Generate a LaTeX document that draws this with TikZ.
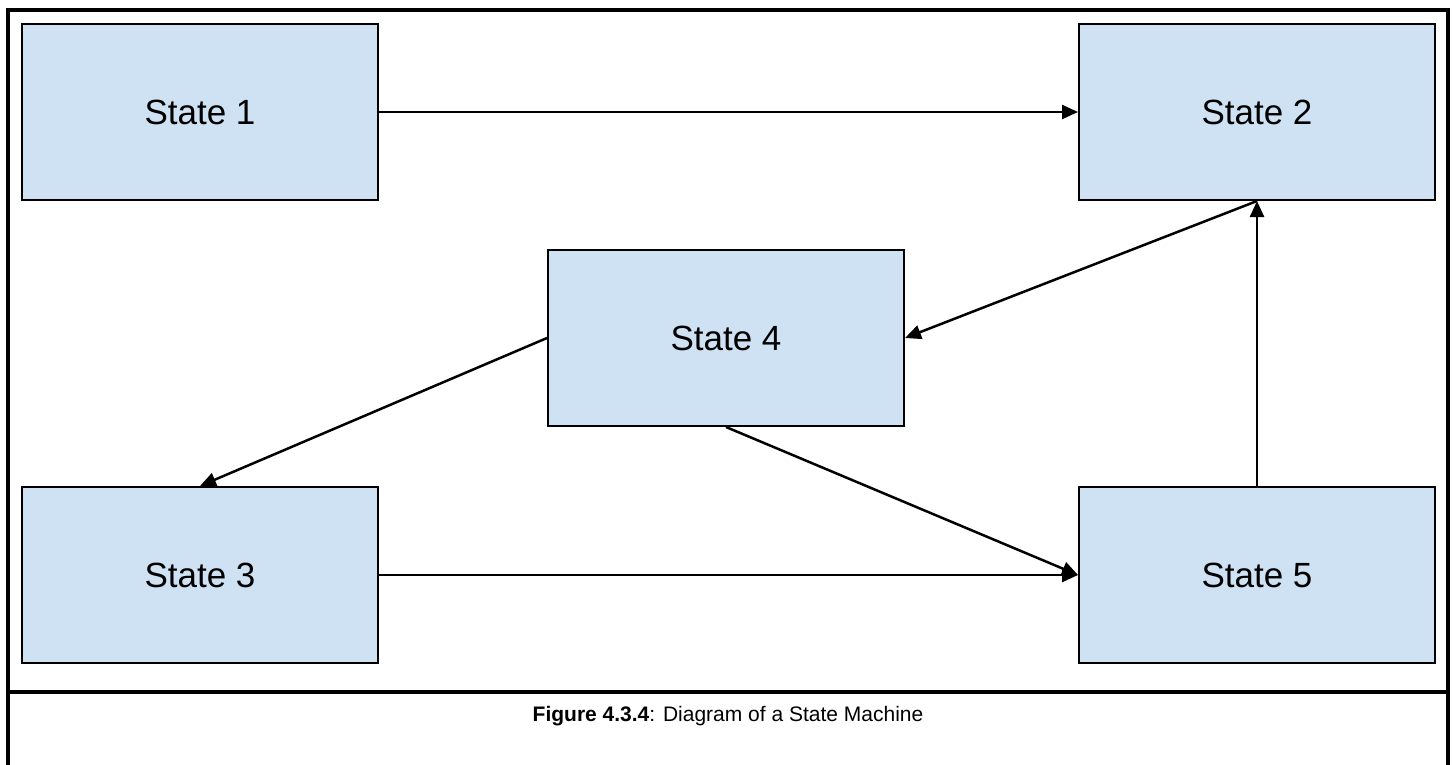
\documentclass[tikz,border=0pt]{standalone}
\usepackage{fontspec}
\setmainfont{Liberation Sans}
\usetikzlibrary{positioning, arrows.meta}
\definecolor{stateblue}{HTML}{CFE2F3}
\tikzset{
	->, % makes the edges directed
	>={Triangle[length=16pt, width=14pt]}, % filled triangle heads
	statebox/.style={draw, line width=2pt, fill=stateblue, minimum width=356pt, minimum height=176pt, inner sep=0pt, font=\fontsize{35}{42}\selectfont}, % the look of each state
	frameline/.style={-, line width=4pt}, % the frame round the figure
}

\begin{document}
\begin{tikzpicture}[x=1pt, y=1pt, line width=2.5pt]
			\useasboundingbox (0,0) rectangle (1453,-764);
			\draw[frameline] (8,-770) -- (8,-10) -- (1448,-10) -- (1448,-770);
			\draw[frameline] (8,-692) -- (1448,-692);

			\node[statebox] (s1) at (200,-112) {State 1};
			\node[statebox] (s2) [right=699pt of s1] {State 2};
			\node[statebox] (s3) [below=285pt of s1] {State 3};
			\node[statebox] (s5) [below=285pt of s2] {State 5};
			\node[statebox] (s4) [below right=48pt and 168pt of s1] {State 4};

			\node[font=\fontsize{21}{25}\selectfont] (cap) at (728,-716) {\textbf{Figure 4.3.4}: Diagram of a State Machine};

			\path (s1) edge (s2)
				  (s2.south) edge (s4.east)
				  (s5.north) edge (s2.south)
				  (s4.west) edge (s3.north)
				  (s4.south) edge (s5.west)
				  (s3) edge (s5);

		\end{tikzpicture}
\end{document}
